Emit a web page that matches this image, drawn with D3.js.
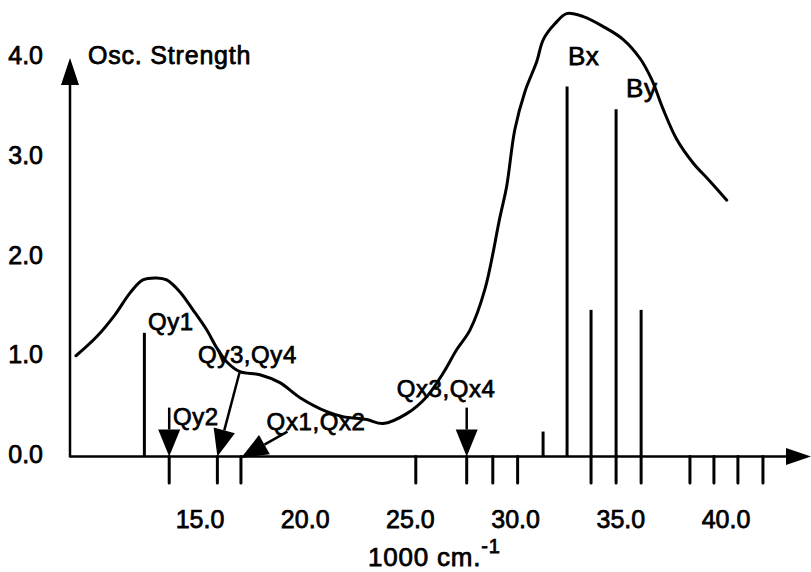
<!DOCTYPE html>
<html>
<head>
<meta charset="utf-8">
<script src="https://cdn.jsdelivr.net/npm/d3@7/dist/d3.min.js"></script>
<style>
  html, body { margin: 0; padding: 0; background: #fff; }
  svg { display: block; }
  text { font-family: "Liberation Sans", Arial, Helvetica, sans-serif; fill: #000; stroke: #000; stroke-width: 0.75px; }
</style>
</head>
<body>
<svg id="chart" width="811" height="572"></svg>
<script>
// ---- data (energies in 1000 cm^-1, oscillator strengths) ----
const spectrumEnergy = [9.13, 10.11, 10.98, 11.70, 12.31, 12.97, 13.44, 14.07, 14.69, 15.34, 15.82, 16.29, 16.92, 17.87, 18.82, 19.78, 21.05, 21.82, 22.95, 23.72, 24.85, 25.80, 26.59, 27.22, 27.86, 28.57, 29.28, 29.60, 29.99, 30.47, 31.03, 31.34, 31.90, 32.45, 33.24, 34.19, 35.14, 35.94, 36.49, 37.04, 37.68, 38.47, 39.26, 40.06];
const spectrumStrength = [1.01, 1.20, 1.42, 1.64, 1.77, 1.79, 1.77, 1.65, 1.47, 1.27, 1.09, 0.95, 0.85, 0.82, 0.74, 0.59, 0.45, 0.40, 0.37, 0.33, 0.43, 0.60, 0.84, 1.07, 1.27, 1.68, 2.40, 2.71, 3.28, 3.66, 3.96, 4.18, 4.34, 4.44, 4.41, 4.31, 4.18, 3.99, 3.78, 3.48, 3.18, 2.94, 2.76, 2.57];

// calculated allowed transitions (sticks above the axis)
const stickEnergy = [12.38, 31.33, 32.47, 33.61, 34.80, 35.99];
const stickStrength = [1.24, 0.25, 3.71, 1.47, 3.48, 1.47];

// weak / forbidden transitions (ticks below the axis)
const weakEnergy = [13.56, 15.85, 16.97, 25.28, 27.70, 28.94, 30.12, 33.61, 34.80, 35.99, 38.31, 39.45, 40.59, 41.78];

// tick labels
const xTicks = [15, 20, 25, 30, 35, 40];
const yTicks = [0, 1, 2, 3, 4];

// annotations: text, anchor energy, anchor strength
const labelText = ["Qy1", "Qy2", "Qy3,Qy4", "Qx1,Qx2", "Qx3,Qx4", "Bx", "By"];
const labelEnergy = [12.55, 13.74, 14.93, 18.19, 24.37, 32.51, 35.27];
const labelStrength = [1.27, 0.316, 0.94, 0.266, 0.60, 3.92, 3.60];

// arrows: from (energy, strength) to (energy, strength)
const arrowFromE = [13.56, 16.90, 19.18, 27.70];
const arrowFromS = [0.49, 0.84, 0.25, 0.49];
const arrowToE = [13.56, 15.85, 16.97, 27.70];
const arrowToS = [0.0, 0.0, -0.015, 0.0];

// ---- scales ----
const x = d3.scaleLinear().domain([10, 40]).range([94.3, 725.5]);
const y = d3.scaleLinear().domain([0, 4]).range([456.5, 57.5]);

const svg = d3.select("#chart");

// y axis line + arrowhead
const axisX = 70, axisY = y(0);
svg.append("line").attr("x1", axisX).attr("x2", axisX).attr("y1", axisY + 1).attr("y2", 82)
  .attr("stroke", "#000").attr("stroke-width", 2.5);
svg.append("path").attr("d", `M${axisX},58 L${axisX - 9},85 L${axisX + 9},85 Z`).attr("fill", "#000");

// x axis line + arrowhead
svg.append("line").attr("x1", axisX).attr("x2", 790).attr("y1", axisY).attr("y2", axisY)
  .attr("stroke", "#000").attr("stroke-width", 2.5);
svg.append("path").attr("d", `M811,${axisY} L786,${axisY - 8.5} L786,${axisY + 8.5} Z`).attr("fill", "#000");

// x tick labels via d3 axis (no tick lines)
const xAxis = d3.axisBottom(x).tickValues(xTicks).tickFormat(d3.format(".1f")).tickSize(0).tickPadding(0);
const gx = svg.append("g").attr("transform", `translate(0,${axisY + 53})`).call(xAxis);
gx.select(".domain").remove();
gx.selectAll("text").attr("font-size", 25).attr("dy", 0).attr("y", 18)
  .style("font-family", '"Liberation Sans", Arial, sans-serif');

// y tick labels
const yAxis = d3.axisLeft(y).tickValues(yTicks).tickFormat(d3.format(".1f")).tickSize(0).tickPadding(0);
const gy = svg.append("g").attr("transform", `translate(43,-2)`).call(yAxis);
gy.select(".domain").remove();
gy.selectAll("text").attr("font-size", 25)
  .style("font-family", '"Liberation Sans", Arial, sans-serif');

// axis titles
svg.append("text").attr("x", 88).attr("y", 64).attr("font-size", 25).attr("letter-spacing", 0.8)
  .text("Osc. Strength");
const xt = svg.append("text").attr("x", 368).attr("y", 566).attr("font-size", 26).attr("letter-spacing", 0.8);
xt.append("tspan").text("1000 cm.");
xt.append("tspan").attr("font-size", 20).attr("dy", -13).text("-1");

// spectrum curve
const pts = spectrumEnergy.map((e, i) => [e, spectrumStrength[i]]);
svg.append("path").datum(pts)
  .attr("d", d3.line().x(d => x(d[0])).y(d => y(d[1])).curve(d3.curveCatmullRom.alpha(0.5)))
  .attr("fill", "none").attr("stroke", "#000").attr("stroke-width", 3).attr("stroke-linecap", "round");

// sticks
svg.selectAll("line.stick").data(stickEnergy).enter().append("line").attr("class", "stick")
  .attr("x1", d => x(d)).attr("x2", d => x(d))
  .attr("y1", axisY).attr("y2", (d, i) => y(stickStrength[i]))
  .attr("stroke", "#000").attr("stroke-width", 3);

// weak ticks below axis
const weakDepth = -0.265;
svg.selectAll("line.weak").data(weakEnergy).enter().append("line").attr("class", "weak")
  .attr("x1", d => x(d)).attr("x2", d => x(d))
  .attr("y1", axisY).attr("y2", y(weakDepth))
  .attr("stroke", "#000").attr("stroke-width", 3).attr("stroke-linecap", "round");

// arrows
arrowFromE.forEach((e, i) => {
  const x1 = x(e), y1 = y(arrowFromS[i]), x2 = x(arrowToE[i]), y2 = y(arrowToS[i]);
  const dx = x2 - x1, dy = y2 - y1, L = Math.hypot(dx, dy);
  const ux = dx / L, uy = dy / L, hl = 27, hw = 11;
  const bx = x2 - ux * hl, by = y2 - uy * hl;
  svg.append("line").attr("x1", x1).attr("y1", y1).attr("x2", bx).attr("y2", by)
    .attr("stroke", "#000").attr("stroke-width", 2.5);
  svg.append("path")
    .attr("d", `M${x2},${y2} L${bx - uy * hw},${by + ux * hw} L${bx + uy * hw},${by - ux * hw} Z`)
    .attr("fill", "#000");
});

// annotation labels
svg.selectAll("text.ann").data(labelText).enter().append("text").attr("class", "ann")
  .attr("x", (d, i) => x(labelEnergy[i])).attr("y", (d, i) => y(labelStrength[i]))
  .attr("font-size", (d, i) => d.startsWith("B") ? 26 : 24)
  .attr("letter-spacing", 0.6)
  .text(d => d);
</script>
</body>
</html>
